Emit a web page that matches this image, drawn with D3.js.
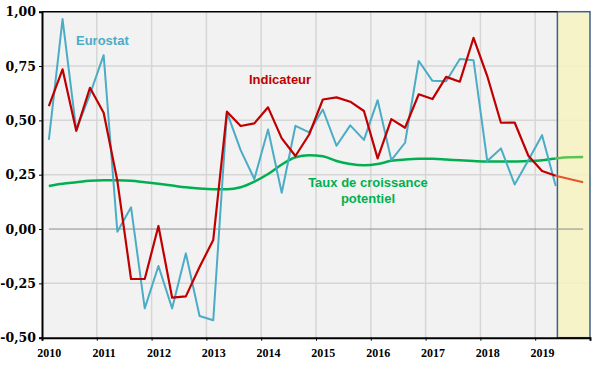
<!DOCTYPE html>
<html>
<head>
<meta charset="utf-8">
<script src="https://cdn.jsdelivr.net/npm/d3@7"></script>
<style>
  body { margin: 0; background: #fff; }
  svg { display: block; }
  .lbl { font-family: "Liberation Sans", Arial, sans-serif; font-weight: bold; font-size: 13px; }
</style>
</head>
<body>
<svg id="chart" width="600" height="371"></svg>
<script>
const WIDTH = 600, HEIGHT = 371;
const margin = { top: 11.7, right: 10, bottom: 33.3, left: 42 };

// quarterly series, 2010 Q1 ...
const years = d3.range(2010, 2021);
const yTicks = [-0.5, -0.25, 0, 0.25, 0.5, 0.75, 1];

const eurostat = [
  0.41, 0.966, 0.455, 0.62,
  0.80, -0.012, 0.10, -0.365,
  -0.17, -0.365, -0.112, -0.40,
  -0.42, 0.537, 0.363, 0.23,
  0.458, 0.167, 0.475, 0.445,
  0.55, 0.383, 0.477, 0.41,
  0.593, 0.317, 0.397, 0.773,
  0.682, 0.68, 0.782, 0.777,
  0.313, 0.371, 0.205, 0.317,
  0.432, 0.198
];

const indicateur = [
  0.566, 0.735, 0.452, 0.65,
  0.535, 0.222, -0.23, -0.23,
  0.014, -0.316, -0.31, -0.175,
  -0.05, 0.54, 0.474, 0.486,
  0.56, 0.417, 0.336, 0.435,
  0.596, 0.606, 0.586, 0.543,
  0.325, 0.506, 0.466, 0.62,
  0.598, 0.70, 0.678, 0.88,
  0.704, 0.489, 0.49, 0.337,
  0.267, 0.245
];
// forecast continuation (2019 Q2 .. Q4)
const indicateurPrev = [0.245, 0.23, 0.215];

const potentiel = [
  0.198, 0.208, 0.215, 0.222,
  0.224, 0.224, 0.222, 0.215,
  0.208, 0.200, 0.192, 0.186,
  0.183, 0.183, 0.192, 0.218,
  0.253, 0.297, 0.33, 0.34,
  0.335, 0.313, 0.299, 0.293,
  0.299, 0.314, 0.32, 0.323,
  0.323, 0.32, 0.316, 0.313,
  0.311, 0.311, 0.311, 0.313,
  0.317, 0.325
];
const potentielPrev = [0.325, 0.33, 0.331];

const qTime = i => 2010 + (i + 0.5) / 4;

const svg = d3.select("#chart");

const x = d3.scaleLinear().domain([2010, 2020]).range([margin.left, WIDTH - margin.right]);
const y = d3.scaleLinear().domain([-0.5, 1]).range([HEIGHT - margin.bottom, margin.top]);

const plotTop = y(1), plotBottom = y(-0.5);

// plot background
svg.append("rect")
  .attr("x", x(2010)).attr("y", plotTop)
  .attr("width", x(2020) - x(2010)).attr("height", plotBottom - plotTop)
  .attr("fill", "#f2f2f2");

// grid
svg.append("g").selectAll("line")
  .data(years.slice(1, -1))
  .join("line")
  .attr("x1", d => x(d)).attr("x2", d => x(d))
  .attr("y1", plotTop).attr("y2", plotBottom)
  .attr("stroke", "#d6d6d6").attr("stroke-width", 1.5);

svg.append("g").selectAll("line")
  .data(yTicks.filter(d => d !== 0 && d !== -0.5 && d !== 1))
  .join("line")
  .attr("x1", x(2010)).attr("x2", x(2020))
  .attr("y1", d => y(d)).attr("y2", d => y(d))
  .attr("stroke", "#d6d6d6").attr("stroke-width", 1.5);

// forecast zone (starts just after the last observed quarter)
const zoneStart = qTime(eurostat.length - 1) + 0.03;
svg.append("rect")
  .attr("x", x(zoneStart)).attr("y", plotTop)
  .attr("width", x(2020) - x(zoneStart)).attr("height", plotBottom - plotTop)
  .attr("fill", "#f6f3c2").attr("fill-opacity", 0.88)
  .attr("stroke", "#3e5f8e").attr("stroke-width", 1.5);

// zero line
svg.append("line")
  .attr("x1", x(qTime(0))).attr("x2", x(qTime(39)))
  .attr("y1", y(0)).attr("y2", y(0))
  .attr("stroke", "#8c8c8c").attr("stroke-width", 1);

// top border
svg.append("line")
  .attr("x1", x(2010)).attr("x2", x(zoneStart))
  .attr("y1", plotTop).attr("y2", plotTop)
  .attr("stroke", "#000").attr("stroke-width", 1.5);

// series
const line = d3.line().x(d => x(d[0])).y(d => y(d[1]));
const smooth = d3.line().x(d => x(d[0])).y(d => y(d[1])).curve(d3.curveMonotoneX);

const pts = arr => arr.map((v, i) => [qTime(i), v]);
const ptsFrom = (arr, start) => arr.map((v, i) => [qTime(start + i), v]);

svg.append("path").datum(pts(potentiel))
  .attr("d", smooth).attr("fill", "none")
  .attr("stroke", "#00b050").attr("stroke-width", 2.5);
svg.append("path").datum(ptsFrom(potentielPrev, 37))
  .attr("d", smooth).attr("fill", "none")
  .attr("stroke", "#5cc451").attr("stroke-width", 2.5);

svg.append("path").datum(pts(eurostat))
  .attr("d", line).attr("fill", "none")
  .attr("stroke", "#4bacc6").attr("stroke-width", 2)
  .attr("stroke-linejoin", "round");

svg.append("path").datum(pts(indicateur))
  .attr("d", line).attr("fill", "none")
  .attr("stroke", "#c00000").attr("stroke-width", 2.2)
  .attr("stroke-linejoin", "round");
svg.append("path").datum(ptsFrom(indicateurPrev, 37))
  .attr("d", line).attr("fill", "none")
  .attr("stroke", "#e8542c").attr("stroke-width", 2);

// axes
const fmt = d => d3.format(".2f")(d).replace(".", ",").replace("−", "-");

const yAxis = svg.append("g")
  .attr("transform", `translate(${x(2010)},0)`)
  .call(d3.axisLeft(y).tickValues(yTicks).tickFormat(fmt).tickSize(3).tickPadding(3))
  .attr("font-family", "'DejaVu Serif', serif").attr("font-weight", "bold").attr("font-size", 12.5);
yAxis.select(".domain").attr("stroke", "#000").attr("stroke-width", 2);
yAxis.selectAll("text").attr("fill", "#000");

const xAxis = svg.append("g")
  .attr("transform", `translate(0,${plotBottom})`)
  .call(d3.axisBottom(x).tickValues(years).tickFormat(d3.format("d")).tickSize(3).tickPadding(8))
  .attr("font-family", "'Liberation Serif', serif").attr("font-weight", "bold").attr("font-size", 12);
xAxis.select(".domain").attr("stroke", "#000").attr("stroke-width", 2);
xAxis.selectAll("text")
  .attr("fill", "#000")
  .attr("dx", x(2010.125) - x(2010))
  .text(d => d === 2020 ? "" : d3.format("d")(d));

// labels
svg.append("text").attr("class", "lbl")
  .attr("x", 76).attr("y", 45)
  .attr("fill", "#4bacc6").text("Eurostat");
svg.append("text").attr("class", "lbl")
  .attr("x", 249).attr("y", 84)
  .attr("fill", "#c00000").text("Indicateur");
const pot = svg.append("text").attr("class", "lbl")
  .attr("text-anchor", "middle").attr("fill", "#00b050");
pot.append("tspan").attr("x", 368).attr("y", 186.5).text("Taux de croissance");
pot.append("tspan").attr("x", 368).attr("y", 202.5).text("potentiel");
</script>
</body>
</html>
